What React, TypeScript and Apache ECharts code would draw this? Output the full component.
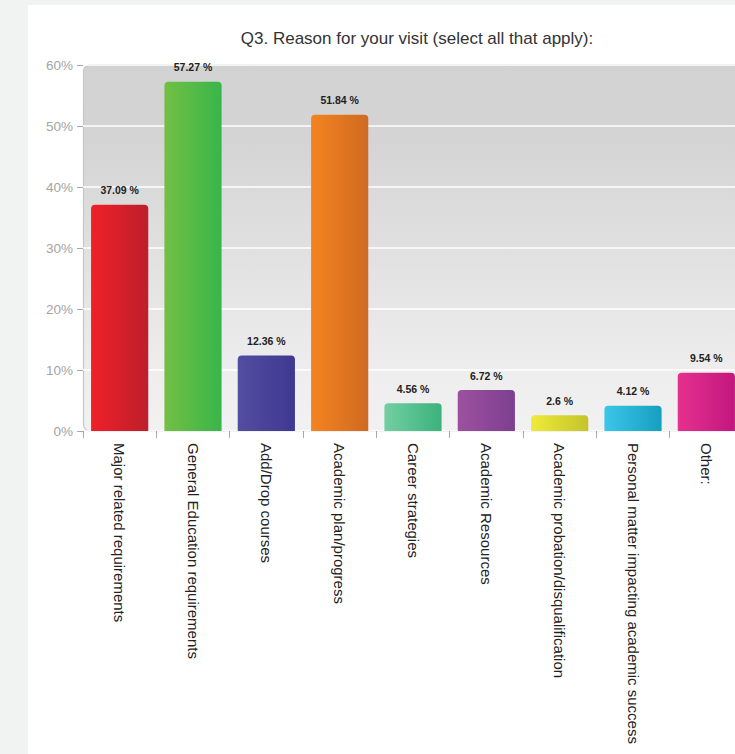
import React, { useEffect, useRef } from "react";
import * as echarts from "echarts";

const title = "Q3. Reason for your visit (select all that apply):";
const categories = [
  "Major related requirements",
  "General Education requirements",
  "Add/Drop courses",
  "Academic plan/progress",
  "Career strategies",
  "Academic Resources",
  "Academic probation/disqualification",
  "Personal matter impacting academic success",
  "Other:",
];
const values = [37.09, 57.27, 12.36, 51.84, 4.56, 6.72, 2.6, 4.12, 9.54];
const colorPairs = [
  ["#ef2028", "#bd1f2b"],
  ["#72c044", "#39b54a"],
  ["#524ea0", "#3e3892"],
  ["#f5841f", "#cf6a22"],
  ["#72cfa2", "#3bb27c"],
  ["#9c519f", "#7d3f90"],
  ["#efea3a", "#c4c42a"],
  ["#3bc6ea", "#169fbf"],
  ["#e5318f", "#c2177f"],
];

export default function App() {
  const ref = useRef<HTMLDivElement>(null);
  useEffect(() => {
    if (!ref.current) return;
    const chart = echarts.init(ref.current, null, { renderer: "svg" });
    const font = "Arial, 'Liberation Sans', sans-serif";
    chart.setOption({
      animation: false,
      backgroundColor: "#f1f2f2",
      textStyle: { fontFamily: font },
      title: {
        text: title,
        left: 412,
        textAlign: "center",
        top: 25,
        textStyle: { fontSize: 17, fontWeight: "normal", color: "#333", fontFamily: font },
      },
      graphic: [
        {
          type: "rect",
          z: -100,
          shape: { x: 28, y: 5, width: 800, height: 800 },
          style: { fill: "#ffffff" },
        },
        {
          type: "rect",
          z: -50,
          shape: { x: 83.5, y: 64.5, width: 720, height: 367, r: [7, 0, 0, 7] },
          style: {
            fill: {
              type: "linear",
              x: 0, y: 0, x2: 0, y2: 1,
              colorStops: [
                { offset: 0, color: "#d2d2d2" },
                { offset: 0.2, color: "#d4d4d4" },
                { offset: 0.85, color: "#eeeeee" },
                { offset: 1, color: "#f1f1f1" },
              ],
            },
            stroke: "#c6c6c6",
            lineWidth: 1.2,
          },
        },
      ],
      grid: { left: 83, top: 65, width: 660, height: 366, containLabel: false },
      xAxis: {
        type: "category",
        data: categories,
        axisLine: { show: false },
        axisTick: { show: true, length: 7, lineStyle: { color: "#a8a8a8" } },
        axisLabel: {
          interval: 0,
          rotate: -90,
          margin: 12,
          fontSize: 15,
          color: "#222",
          fontFamily: font,
        },
      },
      yAxis: {
        type: "value",
        min: 0,
        max: 60,
        interval: 10,
        axisLine: { show: false },
        axisTick: { show: true, length: 6, lineStyle: { color: "#a8a8a8" } },
        axisLabel: { formatter: "{value}%", color: "#a4a4a4", fontSize: 13.5, margin: 10, fontFamily: font },
        splitLine: { lineStyle: { color: "#ffffff", width: 1.5 } },
      },
      series: [
        {
          type: "bar",
          barCategoryGap: "22%",
          data: values.map((v, i) => ({
            value: v,
            itemStyle: {
              color: new echarts.graphic.LinearGradient(0, 0, 1, 0, [
                { offset: 0, color: colorPairs[i][0] },
                { offset: 1, color: colorPairs[i][1] },
              ]),
              borderRadius: [4, 4, 0, 0],
            },
          })),
          label: {
            show: true,
            position: "top",
            distance: 9,
            formatter: (p: any) => `${p.value} %`,
            fontSize: 10.5,
            fontWeight: "bold",
            color: "#222",
            fontFamily: font,
          },
        },
      ],
    });
    return () => chart.dispose();
  }, []);
  return (
    <div style={{ position: "absolute", left: 0, top: 0, width: 735, height: 754, overflow: "hidden" }}>
      <div ref={ref} style={{ width: 780, height: 754 }} />
    </div>
  );
}
